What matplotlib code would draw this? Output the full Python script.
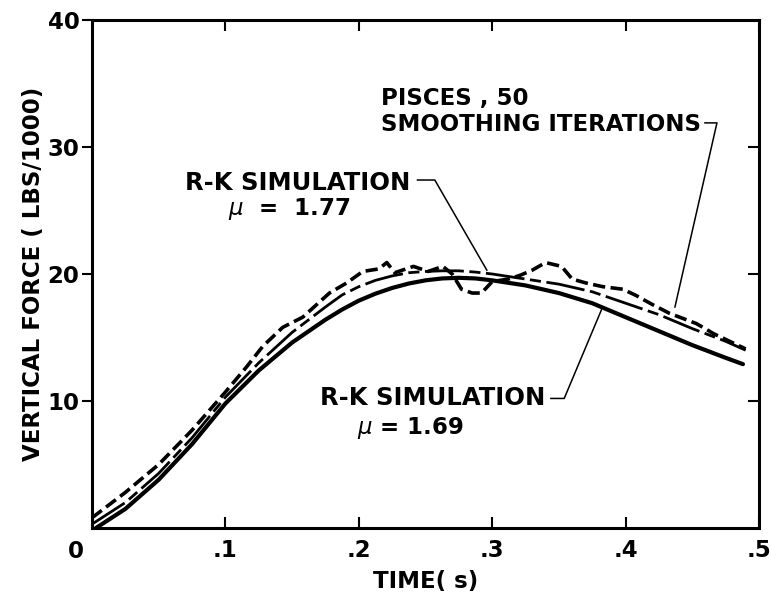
import numpy as np
import matplotlib.pyplot as plt

# R-K simulation, mu = 1.69 (heavy solid)
t_169 = [0.003, 0.025, 0.05, 0.075, 0.1, 0.125, 0.15, 0.175, 0.1875, 0.2, 0.2125,
         0.225, 0.2375, 0.25, 0.2625, 0.275, 0.2875, 0.3, 0.325, 0.35, 0.375,
         0.4, 0.425, 0.45, 0.475, 0.488]
f_169 = [0.0, 1.5, 3.8, 6.6, 9.8, 12.4, 14.6, 16.4, 17.2, 17.9, 18.45,
         18.9, 19.25, 19.5, 19.65, 19.7, 19.65, 19.5, 19.1, 18.5, 17.7,
         16.6, 15.5, 14.4, 13.4, 12.9]

# R-K simulation, mu = 1.77
t_177 = [0.0, 0.025, 0.05, 0.075, 0.1, 0.125, 0.15, 0.175, 0.1875, 0.2, 0.2125,
         0.225, 0.2375, 0.25, 0.2625, 0.275, 0.2875, 0.3, 0.325, 0.35, 0.375,
         0.4, 0.425, 0.45, 0.475, 0.49]
f_177 = [0.3, 2.0, 4.3, 7.1, 10.3, 13.0, 15.4, 17.4, 18.35, 19.0, 19.5,
         19.85, 20.1, 20.2, 20.25, 20.25, 20.15, 20.0, 19.6, 19.2, 18.6,
         17.7, 16.8, 15.7, 14.7, 14.0]

# PISCES, 50 smoothing iterations (dashed)
t_pis = [0.0, 0.025, 0.05, 0.075, 0.1, 0.116, 0.128, 0.143, 0.158, 0.178, 0.191,
         0.203, 0.215, 0.221, 0.227, 0.241, 0.252, 0.263, 0.27, 0.277, 0.285,
         0.292, 0.3, 0.312, 0.321, 0.33, 0.34, 0.352, 0.36, 0.37, 0.383, 0.398,
         0.408, 0.42, 0.433, 0.453, 0.466, 0.49]
f_pis = [0.8, 2.8, 5.0, 7.7, 10.7, 12.7, 14.3, 15.8, 16.6, 18.5, 19.3,
         20.2, 20.4, 20.9, 20.1, 20.6, 20.2, 20.6, 20.0, 18.8, 18.5,
         18.5, 19.4, 19.6, 19.9, 20.3, 20.9, 20.6, 19.6, 19.3, 19.0, 18.8,
         18.3, 17.6, 16.9, 16.1, 15.3, 14.1]

x_ticks = [0.1, 0.2, 0.3, 0.4, 0.5]
x_labels = ['.1', '.2', '.3', '.4', '.5']
y_ticks = [10, 20, 30, 40]

plt.rcParams['font.family'] = ['DejaVu Sans']
FS = 16.5

fig = plt.figure(figsize=(7.71, 6.01), dpi=100)
ax = fig.add_axes([0.1193, 0.1215, 0.8651, 0.8452])

ax.plot(t_169, f_169, color='black', lw=3.0, solid_capstyle='round',
        solid_joinstyle='round')
ax.plot(t_177, f_177, color='black', lw=2.0, linestyle=(0, (14, 2, 4, 2)),
        dash_joinstyle='round')
ax.plot(t_pis, f_pis, color='black', lw=2.6, linestyle=(0, (3.4, 1.5)),
        dash_joinstyle='round')

ax.set_xlim(0, 0.5)
ax.set_ylim(0, 40)

for s in ax.spines.values():
    s.set_linewidth(2.2)

ax.set_xticks(x_ticks)
ax.set_xticklabels(x_labels, fontsize=FS, fontweight='bold')
ax.tick_params(axis='x', direction='in', top=True, length=8, width=1.5, pad=8)
ax.set_yticks(y_ticks)
ax.set_yticklabels([str(v) for v in y_ticks], fontsize=FS, fontweight='bold')
ax.tick_params(axis='y', direction='out', length=7, width=1.5, pad=2)

axr = ax.twinx()
axr.set_ylim(0, 40)
axr.set_yticks([10, 20, 30])
axr.tick_params(axis='y', direction='in', length=8, width=1.5, labelright=False)

ax.text(-0.024, -0.047, '0', transform=ax.transAxes, fontsize=FS,
        fontweight='bold', ha='center', va='center')

ax.set_xlabel('TIME( s)', fontsize=FS, fontweight='bold', labelpad=6)
ax.set_ylabel('VERTICAL FORCE ( LBS/1000)', fontsize=FS, fontweight='bold',
              labelpad=2)

tk = dict(fontsize=FS, fontweight='bold', va='center', ha='left')
tk2 = dict(tk, fontsize=17.5)
lead = dict(color='black', lw=1.1)

# mu = 1.77 label
ax.text(0.0697, 27.2, 'R-K SIMULATION', **tk2)
ax.text(0.102, 25.1, r'$\mu$  =  1.77', **tk)
ax.plot([0.244, 0.257, 0.296], [27.4, 27.4, 20.3], **lead)

# mu = 1.69 label
ax.text(0.171, 10.2, 'R-K SIMULATION', **tk2)
ax.text(0.199, 7.9, r'$\mu$ = 1.69', **tk)
ax.plot([0.344, 0.354, 0.382], [10.2, 10.2, 17.2], **lead)

# PISCES label
ax.text(0.217, 33.8, 'PISCES , 50', **tk)
ax.text(0.217, 31.8, 'SMOOTHING ITERATIONS', **tk)
ax.plot([0.4595, 0.4685, 0.437], [31.9, 31.9, 17.4], **lead)

fig.savefig('out.png', dpi=100)
